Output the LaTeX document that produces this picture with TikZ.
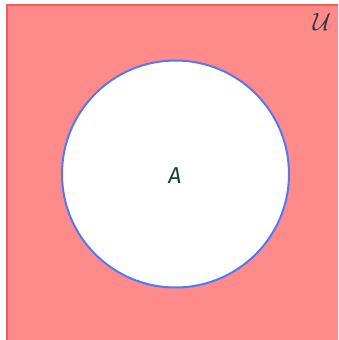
\documentclass[tikz,border=0pt]{standalone}
\usepackage{fontspec}
\setsansfont{Fira Sans}
\definecolor{setfill}{HTML}{FF8A8A}
\definecolor{setedge}{HTML}{F25C5C}
\definecolor{circedge}{HTML}{5577F2}
\definecolor{labelcol}{HTML}{2A3A3A}
\begin{document}
\begin{tikzpicture}[x=1pt,y=-1pt,
  universe/.style={fill=setfill,draw=setedge,line width=1.2pt},
  setA/.style={circle,fill=white,draw=circedge,line width=2pt,minimum size=227pt,inner sep=0pt},
  lbl/.style={text=labelcol,inner sep=0pt,font=\fontsize{23}{26}\selectfont}]
\useasboundingbox (0,0) rectangle (338,340);
\begin{scope}
\clip (0,0) rectangle (338,340);
\path[universe] (7,5) rectangle (345,347);
\end{scope}
\node[setA] (A) at (175.5,174) {};
\node[lbl] (Alabel) at (175,176) {\sffamily\itshape A};
\node[lbl] (U) at (322,22) {$\mathcal{U}$};
\end{tikzpicture}
\end{document}
